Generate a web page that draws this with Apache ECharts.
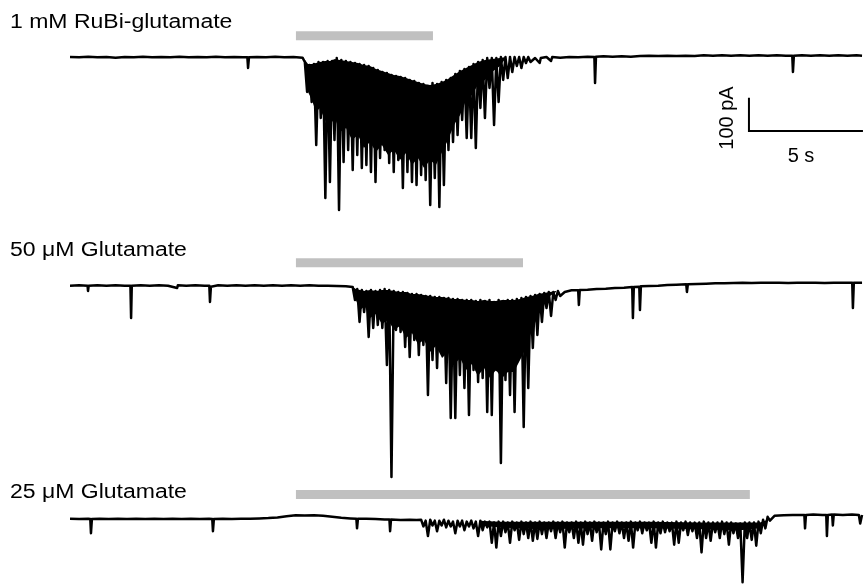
<!DOCTYPE html>
<html>
<head>
<meta charset="utf-8">
<script src="https://cdn.jsdelivr.net/npm/echarts@6/dist/echarts.min.js"></script>
<style>html,body{margin:0;padding:0;background:#fff}#chart{width:867px;height:586px}</style>
</head>
<body>
<div id="chart"></div>
<script>
// ---------------- DATA ----------------
const traceLabels = ['1 mM RuBi-glutamate', '50 \u03bcM Glutamate', '25 \u03bcM Glutamate'];
// application (gray bar) start / end, seconds
const applicationStart = [9.91, 9.91, 9.91];
const applicationEnd = [15.92, 19.87, 29.82];
// scale bar
const scaleBarTime = 5;       // s
const scaleBarCurrent = 100;  // pA
const scaleBarTimeLabel = '5 s';
const scaleBarCurrentLabel = '100 pA';

// dense burst segments: envelope sample, trough, envelope sample, trough ... every 0.1 s
const burstSampleStep = 0.1;

// ---- trace 1 : 1 mM RuBi-glutamate (time s, current pA) ----
const trace1Baseline = [
  [0,0],[0.4,-1],[0.8,1],[1.2,-1],[1.6,0],[2.0,-2],[2.4,0],[2.8,-1],[3.2,1],[3.6,-1],
  [4.0,0],[4.4,-1],[4.8,1],[5.2,-1],[5.6,0],[6.0,-1],[6.4,1],[6.8,-1],[7.2,0],[7.6,-1],
  [7.78,-1],[7.81,-33],[7.85,-1],[8.2,0],[8.6,-1],[9.0,1],[9.4,-1],[9.8,0],[10.2,-2],
  [20.4,-3],[20.6,-18],[20.65,-3],[20.9,0],[21.1,-12],[21.15,0],[21.5,-2],[21.9,0],[22.3,-1],[22.7,1],
  [23.0,0],[23.03,-78],[23.07,1],[23.4,2],[23.8,1],[24.2,2],[24.6,1],[25.0,3],[25.4,4],[25.8,3],
  [26.2,4],[26.6,3],[27.0,4],[27.4,3],[27.8,5],[28.2,4],[28.6,5],[29.0,4],[29.4,5],[29.8,4],
  [30.2,5],[30.6,4],[31.0,5],[31.4,4],[31.68,4],[31.71,-45],[31.75,4],[32.1,5],[32.5,4],[32.9,5],
  [33.3,4],[33.7,5],[34.1,4],[34.5,5],[34.74,4]
];
const trace1BurstStart = 10.3;
const trace1BurstUpper = [-15,-24,-21,-15,-15,-12,-12,-3,-9,-12,-15,-18,-21,-24,-27,-33,-39,-45,-48,-54,
  -57,-60,-63,-69,-72,-78,-81,-87,-78,-81,-75,-69,-63,-51,-42,-36,-30,-21,-15,-9,
  -3,-3,-3,0,0,0,0,0,0,0];
const trace1BurstTrough = [-105,-135,-264,-183,-423,-375,-249,-459,-315,-279,-339,-294,-333,-324,-345,-375,-303,-279,-318,-345,
  -309,-393,-345,-375,-384,-354,-369,-444,-363,-450,-384,-279,-255,-234,-189,-243,-243,-273,-153,-183,
  -93,-204,-135,-69,-63,-45,-27,-33,-18,-15];
const trace1BandTime = [10.31,10.44,10.61,10.79,10.96,11.18,11.40,11.62,11.84,12.11,12.37,12.63,12.89,13.16,13.42,13.68,13.95,14.21,
  14.47,14.74,15.0,15.26,15.53,15.79,16.05,16.32,16.58,16.84,17.11,17.37,17.63,17.89,18.20,18.51,18.86,19.12];
const trace1BandUpper = [-9,-21,-21,-18,-15,-12,-12,-6,-9,-12,-15,-18,-24,-27,-36,-42,-48,-54,
  -57,-63,-69,-75,-81,-84,-81,-75,-66,-54,-42,-33,-24,-15,-9,-6,-3,0];
const trace1BandLower = [-15,-105,-129,-165,-153,-189,-204,-183,-225,-213,-249,-234,-273,-255,-285,-264,-294,-279,
  -309,-288,-324,-303,-333,-309,-324,-285,-249,-204,-174,-129,-114,-84,-69,-45,-27,-3];

// ---- trace 2 : 50 uM Glutamate ----
const trace2Baseline = [
  [0,1],[0.4,2],[0.77,1],[0.79,-15],[0.82,1],[1.2,2],[1.6,1],[2.0,2],[2.4,1],[2.65,1],
  [2.68,-96],[2.71,1],[3.1,2],[3.5,1],[3.9,2],[4.3,1],[4.7,-6],[4.73,2],[5.1,1],[5.5,2],
  [5.9,1],[6.11,1],[6.14,-48],[6.18,-2],[6.5,2],[6.9,1],[7.3,2],[7.7,1],[8.1,2],[8.5,1],
  [8.9,2],[9.3,1],[9.7,2],[10.1,1],[10.5,2],[10.9,1],[11.3,1],[11.7,0],[12.1,-1],
  [21.7,-18],[22.0,-13],[22.29,-13],[22.32,-57],[22.36,-12],[22.7,-11],[23.1,-9],[23.5,-8],[23.9,-6],[24.3,-5],
  [24.66,-3],[24.69,-96],[24.73,-3],[24.97,-2],[25.0,-72],[25.04,-1],[25.4,0],[25.8,1],[26.2,3],[26.6,4],
  [27.03,5],[27.06,-18],[27.1,5],[27.5,6],[27.9,7],[28.3,8],[28.7,8],[29.1,9],[29.5,10],[29.9,9],
  [30.3,10],[30.7,10],[31.1,10],[31.5,9],[31.9,10],[32.3,10],[32.7,10],[33.1,9],[33.5,10],[33.9,10],
  [34.31,10],[34.34,-66],[34.38,10],[34.74,10]
];
const trace2BurstStart = 12.4;
const trace2BurstUpper = [-3,-9,-12,-15,-12,-15,-12,-9,-12,-15,-18,-18,-21,-24,-24,-27,-30,-30,-33,-33,
  -36,-36,-39,-39,-42,-42,-42,-45,-42,-45,-42,-48,-42,-45,-42,-42,-39,-36,-33,-30,
  -27,-24,-21,-18,-18,-15];
const trace2BurstTrough = [-42,-108,-78,-153,-126,-117,-126,-237,-573,-132,-138,-183,-213,-162,-207,-177,-327,-222,-246,-192,
  -291,-396,-396,-267,-306,-387,-252,-288,-276,-378,-387,-252,-531,-282,-327,-378,-207,-423,-306,-186,
  -147,-108,-66,-90,-42,-30];
const trace2BandTime = [12.41,12.54,12.72,12.94,13.16,13.42,13.68,13.95,14.21,14.47,14.74,15.0,15.26,15.53,15.79,16.05,16.32,16.58,
  16.84,17.11,17.37,17.63,17.89,18.16,18.42,18.68,18.95,19.21,19.47,19.74,20.0,20.26,20.53,20.79,21.05,21.32];
const trace2BandUpper = [-3,-9,-12,-15,-12,-15,-12,-12,-15,-18,-18,-24,-24,-27,-30,-33,-33,-36,
  -39,-39,-42,-42,-45,-42,-45,-45,-42,-42,-42,-39,-33,-30,-24,-21,-18,-15];
const trace2BandLower = [-6,-42,-72,-60,-96,-84,-114,-102,-132,-120,-156,-141,-174,-162,-198,-180,-216,-198,
  -237,-216,-252,-234,-270,-246,-276,-252,-276,-258,-258,-222,-186,-132,-90,-51,-30,-18];

// ---- trace 3 : 25 uM Glutamate ----
const trace3Baseline = [
  [0,0],[0.4,-1],[0.8,0],[0.89,-1],[0.92,-45],[0.96,-1],[1.3,0],[1.7,-1],[2.1,0],[2.5,-1],
  [2.9,0],[3.3,-1],[3.7,0],[4.1,-1],[4.5,0],[4.9,-1],[5.3,0],[5.7,-1],[6.1,0],[6.24,-1],
  [6.27,-39],[6.31,-1],[6.7,0],[7.1,-1],[7.5,0],[7.9,0],[8.3,1],[8.7,2],[9.1,4],[9.5,8],
  [9.9,11],[10.3,10],[10.7,11],[11.1,9],[11.5,6],[11.9,3],[12.3,1],[12.56,0],[12.59,-30],[12.63,0],
  [13.0,0],[13.4,-1],[13.8,-2],[14.01,-2],[14.04,-39],[14.08,-2],[14.5,-4],[14.9,-3],[15.2,-4],
  [30.9,9],[31.3,11],[31.7,12],[32.1,12],[32.21,12],[32.24,-30],[32.28,12],[32.6,13],[33.0,12],[33.17,12],
  [33.2,-54],[33.24,12],[33.43,13],[33.46,-21],[33.5,13],[33.9,12],[34.3,13],[34.6,12],[34.66,-15],[34.74,12]
];
const trace3BurstStart = 15.4;
const trace3BurstUpper = [-3,-6,-3,-6,-6,-3,-6,-9,-6,-6,-9,-6,-9,-6,-9,-9,-12,-9,-9,-12,
  -9,-12,-9,-12,-9,-12,-9,-12,-12,-9,-12,-9,-12,-12,-9,-12,-9,-12,-9,-12,
  -12,-9,-12,-9,-12,-12,-9,-12,-9,-12,-12,-9,-12,-9,-12,-12,-9,-12,-9,-12,
  -12,-12,-9,-12,-12,-12,-9,-12,-12,-15,-15,-12,-12,-12,-9,-3,6];
const trace3BurstTrough = [-24,-54,-21,-39,-21,-27,-24,-45,-24,-36,-24,-30,-54,-36,-27,-75,-90,-54,-42,-75,
  -36,-66,-48,-60,-69,-63,-48,-60,-39,-60,-42,-90,-42,-60,-75,-81,-48,-69,-42,-96,
  -48,-96,-39,-45,-60,-69,-90,-36,-45,-36,-75,-90,-45,-42,-39,-81,-75,-36,-51,-39,
  -60,-105,-60,-69,-42,-60,-48,-81,-45,-60,-198,-60,-66,-84,-45,-30,-6];
const trace3BandTime = [17.98,18.86,20.61,23.25,25.44,27.63,29.39,30.26,30.61];
const trace3BandUpper = [-6,-9,-9,-9,-9,-12,-12,-12,-3];
const trace3BandLower = [-21,-27,-33,-30,-30,-33,-36,-30,-6];

// ---------------- BUILD ----------------
function buildTrace(baseline, start, upper, trough) {
  const pts = [];
  baseline.forEach(p => { if (p[0] < start) pts.push(p); });
  const end = start + (2 * upper.length - 1) * burstSampleStep;
  for (let k = 0; k < upper.length; k++) {
    pts.push([+(start + 2 * k * burstSampleStep).toFixed(3), upper[k]]);
    pts.push([+(start + (2 * k + 1) * burstSampleStep).toFixed(3), trough[k]]);
  }
  baseline.forEach(p => { if (p[0] > end) pts.push(p); });
  return pts;
}

const traces = [
  { base: trace1Baseline, start: trace1BurstStart, up: trace1BurstUpper, tr: trace1BurstTrough,
    bt: trace1BandTime, bu: trace1BandUpper, bl: trace1BandLower },
  { base: trace2Baseline, start: trace2BurstStart, up: trace2BurstUpper, tr: trace2BurstTrough,
    bt: trace2BandTime, bu: trace2BandUpper, bl: trace2BandLower },
  { base: trace3Baseline, start: trace3BurstStart, up: trace3BurstUpper, tr: trace3BurstTrough,
    bt: trace3BandTime, bu: trace3BandUpper, bl: trace3BandLower }
];

// layout (1 px = 3 pA vertically, 22.8 px per second horizontally)
const gridTops = [25, 254, 488];
const yRanges = [[-480, 96], [-600, 96], [-210, 96]];
const barLevels = [64, 70, 76];
const timeMax = 34.8;

const grids = [], xAxes = [], yAxes = [], series = [];
traces.forEach((tr, i) => {
  grids.push({ left: 70, right: 3.6, top: gridTops[i], height: (yRanges[i][1] - yRanges[i][0]) / 3 });
  xAxes.push({ type: 'value', gridIndex: i, min: 0, max: timeMax, show: false });
  yAxes.push({ type: 'value', gridIndex: i, min: yRanges[i][0], max: yRanges[i][1], show: false });
  // application bar
  series.push({
    type: 'line', xAxisIndex: i, yAxisIndex: i, symbol: 'none', silent: true,
    data: [[applicationStart[i], barLevels[i]], [applicationEnd[i], barLevels[i]]],
    lineStyle: { color: '#c0c0c0', width: 9, cap: 'butt' }, z: 1
  });
  // dense burst envelope band
  const bt = tr.bt, bu = tr.bu, bl = tr.bl;
  series.push({
    type: 'custom', xAxisIndex: i, yAxisIndex: i, silent: true, clip: false, z: 2,
    data: [[bt[0], bu[0]]],
    renderItem: function (params, api) {
      const pts = [];
      for (let j = 0; j < bt.length; j++) pts.push(api.coord([bt[j], bu[j]]));
      for (let j = bt.length - 1; j >= 0; j--) pts.push(api.coord([bt[j], bl[j]]));
      return { type: 'polygon', shape: { points: pts }, style: { fill: '#000' } };
    }
  });
  // current trace
  series.push({
    type: 'line', xAxisIndex: i, yAxisIndex: i, symbol: 'none', silent: true, z: 3,
    data: buildTrace(tr.base, tr.start, tr.up, tr.tr),
    lineStyle: { color: '#000', width: 2.5, join: 'round', cap: 'butt' }
  });
});

// scale bar in first panel
const scaleBarAnchor = [29.78, -222];
series.push({
  type: 'line', xAxisIndex: 0, yAxisIndex: 0, symbol: 'none', silent: true, z: 4,
  data: [[scaleBarAnchor[0], scaleBarAnchor[1] + scaleBarCurrent],
         [scaleBarAnchor[0], scaleBarAnchor[1]],
         [scaleBarAnchor[0] + scaleBarTime, scaleBarAnchor[1]]],
  lineStyle: { color: '#000', width: 2, join: 'miter', cap: 'butt' }
});

const labelFont = '20px "Liberation Sans", Arial, Helvetica, sans-serif';
const labelY = [22, 250, 492];
const graphics = traceLabels.map((t, i) => ({
  type: 'text', x: 10, y: labelY[i], scaleX: 1.15, silent: true,
  style: { text: t, font: labelFont, fill: '#000', align: 'left', verticalAlign: 'middle' }
}));
graphics.push({
  type: 'text', x: 801, y: 156, silent: true,
  style: { text: scaleBarTimeLabel, font: labelFont, fill: '#000', align: 'center', verticalAlign: 'middle' }
});
graphics.push({
  type: 'text', x: 727, y: 118, rotation: Math.PI / 2, silent: true,
  style: { text: scaleBarCurrentLabel, font: labelFont, fill: '#000', align: 'center', verticalAlign: 'middle' }
});

const chart = echarts.init(document.getElementById('chart'), null, { renderer: 'canvas' });
chart.setOption({
  backgroundColor: '#fff',
  animation: false,
  grid: grids,
  xAxis: xAxes,
  yAxis: yAxes,
  series: series,
  graphic: graphics
});
</script>
</body>
</html>
